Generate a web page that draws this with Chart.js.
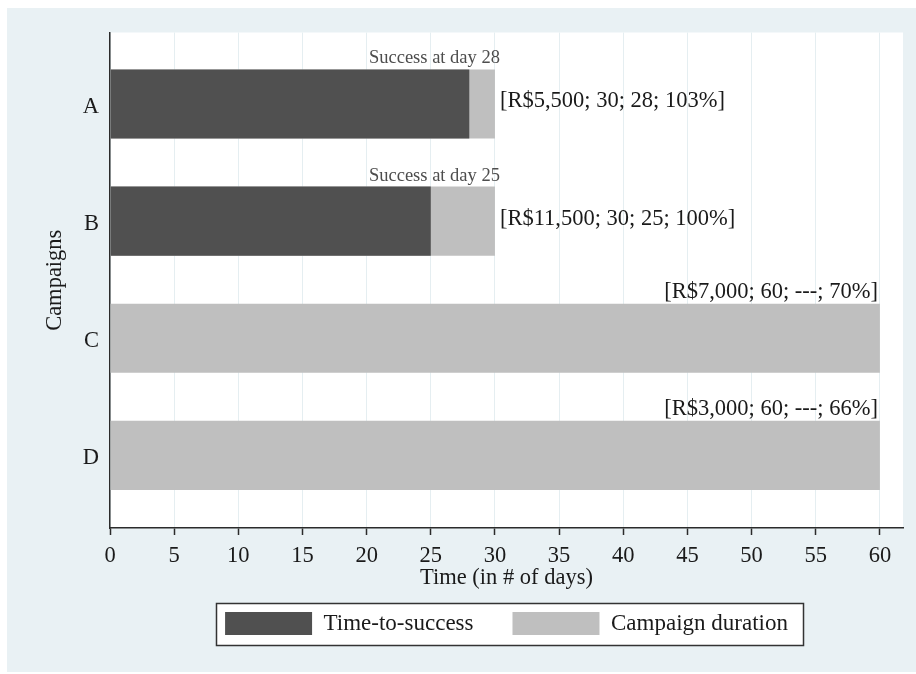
<!DOCTYPE html>
<html>
<head>
<meta charset="utf-8">
<script src="https://cdn.jsdelivr.net/npm/chart.js@4"></script>
<style>
  html, body { margin: 0; padding: 0; background: #ffffff; width: 916px; height: 674px; overflow: hidden; }
  #wrap { position: absolute; left: 7px; top: 8px; width: 909px; height: 664px; background: #e9f1f4; }
  canvas { display: block; }
</style>
</head>
<body>
<div id="wrap"><canvas id="c"></canvas></div>
<script>
// ---- data ----
const categories = ['A', 'B', 'C', 'D'];
const campaignDuration = [30, 30, 60, 60];
const timeToSuccess = [28, 25, null, null];
const goals = ['R$5,500', 'R$11,500', 'R$7,000', 'R$3,000'];
const pctFunded = [103, 100, 70, 66];
const xTicks = [0, 5, 10, 15, 20, 25, 30, 35, 40, 45, 50, 55, 60];
const seriesNames = ['Time-to-success', 'Campaign duration'];

const summaryLabels = categories.map((c, i) =>
  '[' + goals[i] + '; ' + campaignDuration[i] + '; ' +
  (timeToSuccess[i] == null ? '---' : timeToSuccess[i]) + '; ' + pctFunded[i] + '%]');
const successLabels = timeToSuccess.map(v => v == null ? null : 'Success at day ' + v);

const FONT = "'Liberation Serif', 'Times New Roman', serif";
const DARK = '#505050';
const LIGHT = '#bfbfbf';
const AXIS = '#2b2b2b';

const bgPlugin = {
  id: 'bg',
  beforeDraw(chart) {
    const ctx = chart.ctx;
    const a = chart.chartArea;
    ctx.save();
    ctx.fillStyle = '#ffffff';
    ctx.fillRect(a.left, a.top, a.right - a.left, a.bottom - a.top);
    // legend frame
    const lg = chart.legend;
    if (lg && lg.lineWidths) {
      const pad = lg.options.labels.padding;
      const start = (lg.left + pad + lg.right - lg.lineWidths[0]) / 2;
      const end = start + lg.lineWidths[0] - pad;
      const rowTop = lg.top + pad;
      const x0 = Math.round(start - 9) + 0.5, x1 = Math.round(end + 15) + 0.5;
      const y0 = Math.round(rowTop - 9) + 0.5, y1 = Math.round(rowTop + 23 + 10) + 0.5;
      ctx.fillStyle = '#ffffff';
      ctx.fillRect(x0, y0, x1 - x0, y1 - y0);
      ctx.strokeStyle = '#333333';
      ctx.lineWidth = 1.5;
      ctx.strokeRect(x0, y0, x1 - x0, y1 - y0);
    }
    ctx.restore();
  }
};

const labelPlugin = {
  id: 'barLabels',
  afterDatasetsDraw(chart) {
    const ctx = chart.ctx;
    const meta = chart.getDatasetMeta(1);
    ctx.save();
    meta.data.forEach((bar, i) => {
      const top = bar.y - bar.height / 2;
      const end = bar.x;
      if (successLabels[i]) {
        ctx.font = '18.5px ' + FONT;
        ctx.fillStyle = '#4d4d4d';
        ctx.textAlign = 'right';
        ctx.textBaseline = 'alphabetic';
        ctx.fillText(successLabels[i], end + 5, top - 6);
      }
      ctx.font = '22.5px ' + FONT;
      ctx.fillStyle = '#1a1a1a';
      const w = ctx.measureText(summaryLabels[i]).width;
      if (end + 5 + w <= chart.chartArea.right) {
        ctx.textAlign = 'left';
        ctx.textBaseline = 'middle';
        ctx.fillText(summaryLabels[i], end + 5, bar.y - 2.5);
      } else {
        ctx.textAlign = 'right';
        ctx.textBaseline = 'alphabetic';
        ctx.fillText(summaryLabels[i], end - 2, top - 6);
      }
    });
    ctx.restore();
  }
};

new Chart(document.getElementById('c'), {
  type: 'bar',
  data: {
    datasets: [
      {
        label: seriesNames[0],
        data: categories.map((c, i) => ({ y: i + 1, x: timeToSuccess[i] })),
        backgroundColor: DARK,
        borderWidth: 0,
        order: 0
      },
      {
        label: seriesNames[1],
        data: categories.map((c, i) => ({ y: i + 1, x: campaignDuration[i] })),
        backgroundColor: LIGHT,
        borderWidth: 0,
        order: 1
      }
    ]
  },
  options: {
    indexAxis: 'y',
    responsive: true,
    maintainAspectRatio: false,
    animation: false,
    layout: { padding: { top: 24, right: 13, bottom: 27, left: 0 } },
    datasets: { bar: { grouped: false, categoryPercentage: 1, barPercentage: 0.59 } },
    scales: {
      x: {
        type: 'linear',
        min: 0,
        max: 61.8,
        offset: false,
        afterBuildTicks(scale) { scale.ticks = xTicks.map(v => ({ value: v })); },
        afterFit(scale) { scale.height = 45; },
        grid: { color: '#e5eef1', lineWidth: 1, offset: false, drawTicks: true, tickLength: 7, tickColor: AXIS, tickWidth: 1.5 },
        border: { display: true, color: AXIS, width: 1.5 },
        ticks: { color: '#1a1a1a', font: { family: FONT, size: 22.5 }, padding: 8, maxRotation: 0, autoSkip: false },
        title: { display: true, text: 'Time (in # of days)', color: '#1a1a1a', font: { family: FONT, size: 22.5 }, padding: { top: 0, bottom: -19 } }
      },
      y: {
        type: 'linear',
        reverse: true,
        min: 0.39,
        max: 4.62,
        offset: false,
        afterBuildTicks(scale) { scale.ticks = categories.map((c, i) => ({ value: i + 1 })); },
        afterFit(scale) { scale.width = 103; },
        grid: { display: false, offset: false, drawTicks: false, tickLength: 0 },
        border: { display: true, color: AXIS, width: 1.5 },
        ticks: {
          color: '#1a1a1a', font: { family: FONT, size: 22.5 }, padding: 11, labelOffset: 3, autoSkip: false,
          callback: (v) => categories[Math.round(v) - 1]
        },
        title: { display: true, text: 'Campaigns', color: '#1a1a1a', font: { family: FONT, size: 22.5 }, padding: { top: 35, bottom: 0 } }
      }
    },
    plugins: {
      legend: {
        position: 'bottom',
        fullSize: false,
        maxHeight: 72,
        labels: {
          boxWidth: 87, boxHeight: 23, padding: 39, color: '#1a1a1a',
          font: { family: FONT, size: 23 }
        }
      },
      tooltip: { enabled: false }
    }
  },
  plugins: [bgPlugin, labelPlugin]
});
</script>
</body>
</html>
